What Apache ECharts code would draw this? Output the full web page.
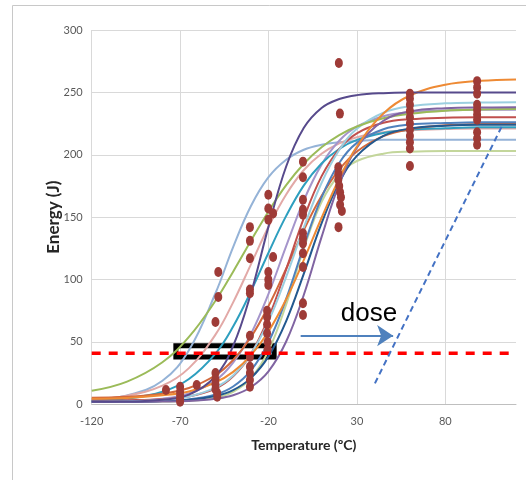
<!DOCTYPE html>
<html><head><meta charset="utf-8">
<script src="https://cdn.jsdelivr.net/npm/echarts@6/dist/echarts.min.js"></script>
<style>html,body{margin:0;padding:0;background:#fff}#c{width:526px;height:480px}</style>
</head><body><div id="c"></div>
<script>
// Axis ticks
const xTicks = [-120, -70, -20, 30, 80];
const yTicks = [0, 50, 100, 150, 200, 250, 300];

const curveTemps = [-120, -100, -80, -65, -50, -40, -30, -20, -10, 0, 10, 20, 30, 45, 60, 80, 100, 120];

// Fitted curves (energy, J)
const darkPurple = [2, 2.2, 3.6, 7.8, 22.6, 46.8, 88.7, 142.4, 190.6, 221.6, 237.5, 244.7, 247.8, 249.4, 249.9, 250, 250, 250];
const green      = [10.8, 18.2, 33.7, 54, 83, 106.3, 130.9, 154.6, 175.6, 192.8, 206, 215.8, 222.7, 229.2, 232.8, 235.3, 236.2, 236.7];
const steelBlue  = [4, 7.1, 18.9, 43.4, 89, 126, 158.7, 182, 196, 204, 208, 210, 211, 212, 212, 212, 212, 212];
const orange     = [4.4, 5, 7.2, 10.3, 17.5, 26, 39.2, 58.4, 84.2, 115.7, 149.3, 180.8, 206.6, 233.1, 247.5, 256.1, 259.3, 260.4];
const lightBlue  = [2.1, 2.5, 3.6, 6.3, 13.4, 23.1, 40.2, 66.6, 102.2, 141.8, 177.4, 203.8, 220.9, 233.7, 238.9, 241.2, 241.8, 242];
const purple     = [2, 2, 2.2, 2.7, 4.5, 7.3, 13.7, 26.4, 50.3, 87.8, 134, 176.4, 205.7, 227.3, 234.7, 237.3, 237.9, 238];
const red        = [3, 3.3, 4.1, 6.3, 12.6, 22.4, 40.2, 69.2, 108.1, 149.2, 182.7, 204.6, 217.2, 225.6, 228.5, 229.7, 230, 230];
const redOrange  = [5.3, 6.1, 8.5, 13.1, 23.3, 35.5, 53.7, 78.7, 108.7, 139.8, 167, 188, 202.6, 214.9, 220.5, 223.6, 224.6, 225];
const darkBlue   = [2, 2, 2.6, 3.6, 6.7, 11.4, 21, 38.4, 66.7, 104.8, 145, 177.7, 199.1, 215.2, 221, 223.3, 224, 224];
const blue       = [2, 2, 2.6, 3.9, 7.9, 14.3, 27, 49.7, 84.5, 126.9, 165.7, 193.4, 209.5, 220.5, 224.2, 225.4, 226, 226];
const teal       = [2.9, 4.6, 10.1, 20.3, 40.7, 62.4, 90.3, 121.5, 151, 175.5, 193, 204.6, 211.9, 217.5, 220.1, 221.3, 222, 222];
const pink       = [4.3, 6.9, 14.9, 29, 55.8, 81.7, 112, 142.3, 168.2, 187.8, 200.8, 209.1, 214.1, 218, 219.7, 220.6, 221, 221];
const paleGreen  = [2, 2, 2.2, 2.8, 5.3, 10, 20.8, 42.9, 80.1, 124.9, 162.1, 184.2, 195, 200.9, 202.5, 203, 203, 203];
const lavender   = [2.1, 2.7, 4.5, 8.7, 19.2, 33.4, 56.2, 88.5, 126.8, 163.5, 192.1, 211.2, 222.5, 230.9, 234.1, 235.5, 236, 236];

const curves = [
  { values: paleGreen, color: '#C3D69B' },
  { values: steelBlue, color: '#95B3D7' },
  { values: pink, color: '#E2A9A7' },
  { values: lavender, color: '#A595CB' },
  { values: teal, color: '#2E9FBF' },
  { values: redOrange, color: '#D3683C' },
  { values: red, color: '#C0504D' },
  { values: blue, color: '#4F81BD' },
  { values: darkBlue, color: '#23598F' },
  { values: lightBlue, color: '#9CCFE0' },
  { values: green, color: '#9BBB59' },
  { values: purple, color: '#8064A2' },
  { values: orange, color: '#EE8A34' },
  { values: darkPurple, color: '#574A8C' }
];

// Measured points
const dotTemps = [
  -78, -70, -70, -70, -70, -70, -60.6,
  -48.4, -48.4, -50, -50, -50, -50, -50, -49, -49,
  -30.5, -30.5, -30.5, -30.5, -30.5, -30.5, -30.5, -30.5, -30.5, -30.5, -30.5,
  -20.1, -20.1, -17.4, -20.1, -17.4, -20.1, -20.1, -20.1, -20.8, -20.8, -20.8, -20.8, -20.5, -20.5,
  -0.5, -0.5, -0.5, -0.5, -0.5, -0.5, -0.5, -0.5, -0.5, -0.5, -0.5, -0.5,
  19.8, 20.4, 19.5, 19.5, 19.5, 20, 20.5, 21, 20.5, 21.5, 19.6,
  60, 60, 60, 60, 60, 60, 60, 60, 60, 60, 60,
  98, 98, 98, 98, 98, 98, 98, 98, 98, 98
];
const dotEnergies = [
  11.5, 14, 10, 7, 4, 2, 15.5,
  106, 86, 66, 25, 20, 16, 12, 9, 6,
  142, 131, 117, 92, 89, 55, 38, 30, 25, 19.5, 14,
  168, 157, 153, 148, 118, 106, 100, 95.7, 75, 70, 64, 57, 50, 44,
  194.5, 182, 164, 156, 152, 137, 133, 129, 121, 110, 81, 71.6,
  273.5, 233, 190, 185, 180, 175, 170, 166, 160, 155, 142,
  249, 245, 240, 235, 230, 225, 220, 215, 210, 205, 191,
  259, 254, 249, 240, 236, 232, 228, 218, 213, 208
];

// Annotations (data space)
const thresholdTemps = [-120, 117];
const thresholdEnergy = 41;
const boxCorners = [[-72.4, 47], [-16.8, 38]];
const arrowCoords = [[-1.8, 55], [50.5, 55]];
const doseLabelAt = [36.8, 72.4];
const doseLineCoords = [[40.2, 16.8], [111.9, 222.6]];

const series = [];
curves.forEach(c => {
  series.push({
    type: 'line', smooth: 0.4, showSymbol: false, silent: true, z: 2,
    data: curveTemps.map((t, i) => [t, c.values[i]]),
    lineStyle: { color: c.color, width: 2 }
  });
});
series.push({
  type: 'scatter', z: 5, silent: true,
  symbol: 'circle', symbolSize: [8, 10],
  itemStyle: { color: '#9E3B37', opacity: 1 },
  data: dotTemps.map((t, i) => [t, dotEnergies[i]])
});
series.push({
  type: 'line', z: 6, silent: true, showSymbol: false,
  data: thresholdTemps.map(t => [t, thresholdEnergy]),
  lineStyle: { color: '#FF0000', width: 3.5, type: [9, 8] },
  markArea: {
    silent: true,
    itemStyle: { color: 'rgba(0,0,0,0)', borderColor: '#000', borderWidth: 5 },
    data: [[{ coord: boxCorners[0] }, { coord: boxCorners[1] }]]
  }
});
series.push({
  type: 'lines', coordinateSystem: 'cartesian2d', z: 7, silent: true,
  symbol: ['none', 'arrow'], symbolSize: [14, 16],
  lineStyle: { color: '#4F81BD', width: 2, opacity: 1 },
  data: [{ coords: arrowCoords }]
});
series.push({
  type: 'line', z: 7, silent: true, showSymbol: false,
  data: doseLineCoords,
  lineStyle: { color: '#4472C4', width: 2, type: [6, 4] }
});
series.push({
  type: 'scatter', z: 8, silent: true, symbolSize: 0,
  itemStyle: { opacity: 1 },
  data: [doseLabelAt],
  label: { show: true, formatter: 'dose', position: 'inside', fontSize: 26, opacity: 1,
           fontFamily: 'Liberation Sans, Arial', color: '#000', align: 'center', verticalAlign: 'middle' }
});

const chart = echarts.init(document.getElementById('c'), null, { renderer: 'canvas' });
chart.setOption({
  animation: false,
  backgroundColor: '#fff',
  grid: { left: 91.7, right: 10, top: 30, bottom: 75.7, containLabel: false },
  xAxis: {
    type: 'value', min: -120, max: 120, interval: 50,
    name: 'Temperature (ºC)', nameLocation: 'middle', nameGap: 34, nameMoveOverlap: false,
    nameTextStyle: { fontWeight: 'bold', fontSize: 14, color: '#262626', fontFamily: 'Lato' },
    axisLine: { show: true, lineStyle: { color: '#BFBFBF', width: 1 } },
    axisTick: { show: false },
    axisLabel: { color: '#595959', fontSize: 11, fontFamily: 'Lato', margin: 12, showMaxLabel: false,
                 formatter: v => xTicks.includes(v) ? String(v) : '' },
    splitLine: { show: true, showMaxLine: false, lineStyle: { color: '#D9D9D9', width: 1 } }
  },
  yAxis: {
    type: 'value', min: 0, max: 300, interval: 50,
    name: 'Energy (J)', nameLocation: 'middle', nameGap: 30, nameMoveOverlap: false,
    nameTextStyle: { fontWeight: 'bold', fontSize: 17, color: '#262626', fontFamily: 'Lato' },
    axisLine: { show: false }, axisTick: { show: false },
    axisLabel: { color: '#595959', fontSize: 11, fontFamily: 'Lato', margin: 9,
                 formatter: v => yTicks.includes(v) ? String(v) : '' },
    splitLine: { show: true, lineStyle: { color: '#D9D9D9', width: 1 } }
  },
  graphic: [{
    type: 'rect', silent: true, z: -1,
    shape: { x: 12.5, y: 5.5, width: 700, height: 700 },
    style: { fill: 'none', stroke: '#C8C8C8', lineWidth: 1 }
  }],
  series: series
});
</script></body></html>
